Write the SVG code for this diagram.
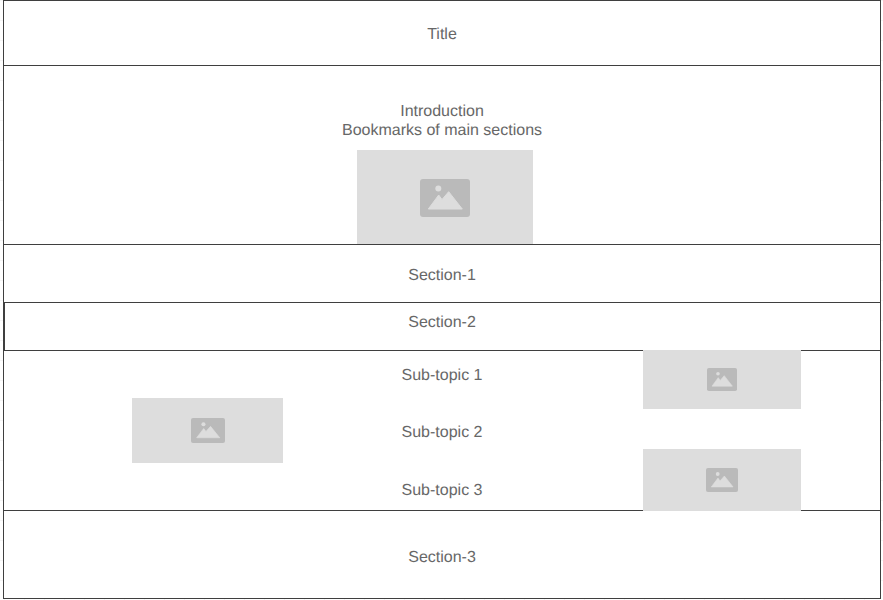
<svg xmlns="http://www.w3.org/2000/svg" width="883" height="600" viewBox="0 0 883 600">
<defs>
<pattern id="grid" width="20" height="20" patternUnits="userSpaceOnUse" x="4" y="0"><path d="M0 0V20M0 0H20" fill="none" stroke="#ececec" stroke-width="1"/></pattern>
<symbol id="pic" viewBox="0 0 50 38" preserveAspectRatio="none">
<rect width="50" height="38" rx="3" fill="#bababa"/>
<circle cx="18.300" cy="9.500" r="3" fill="#dddddd"/>
<path d="M8.300 30 L18.700 16 L22 20.500 L28.700 12.700 L42.300 30 Z" fill="#dddddd" stroke="#dddddd" stroke-linejoin="round"/>
</symbol>
</defs>
<style>
.band{fill:#fff;stroke:#3f3f3f;stroke-width:1}
.ph{fill:#dddddd}
text{font-family:"Liberation Sans",Arial,sans-serif;font-size:16px;fill:#666666;text-anchor:middle;text-rendering:geometricPrecision;opacity:0.99}
</style>
<rect width="883" height="600" fill="#fff"/>
<rect width="883" height="600" fill="url(#grid)"/>
<g id="connectors"></g>
<g id="title"><rect class="band" x="3.500" y="0.500" width="877" height="65"/><text x="442" y="38.500">Title</text></g>
<g id="introduction"><rect class="band" x="3.500" y="65.500" width="877" height="179"/><text x="442" y="116">Introduction</text><text x="442" y="135">Bookmarks of main sections</text></g>
<g id="section-1"><rect class="band" x="3.500" y="244.500" width="877" height="58"/><text x="442" y="280">Section-1</text></g>
<g id="section-2"><rect class="band" x="3.500" y="302.500" width="877" height="48"/><path d="M4.500 302V351" stroke="#3f3f3f" stroke-width="1"/><text x="442" y="327">Section-2</text></g>
<g id="section-2-body"><rect class="band" x="3.500" y="350.500" width="877" height="160"/></g>
<g id="section-3"><rect class="band" x="3.500" y="510.500" width="877" height="88"/><text x="442" y="561.500">Section-3</text></g>
<g id="sub-topic-1"><text x="442" y="380">Sub-topic 1</text></g>
<g id="sub-topic-2"><text x="442" y="437">Sub-topic 2</text></g>
<g id="sub-topic-3"><text x="442" y="495">Sub-topic 3</text></g>
<g id="image-1"><rect class="ph" x="357" y="150" width="176" height="94"/><use href="#pic" x="420" y="179" width="50" height="38"/></g>
<g id="image-2"><rect class="ph" x="132" y="398" width="151" height="65"/><use href="#pic" x="191" y="418" width="34" height="25"/></g>
<g id="image-3"><rect class="ph" x="643" y="350" width="158" height="59"/><use href="#pic" x="707" y="368" width="30" height="23"/></g>
<g id="image-4"><rect class="ph" x="643" y="449" width="158" height="62"/><use href="#pic" x="706" y="468" width="32" height="24"/></g>
</svg>
